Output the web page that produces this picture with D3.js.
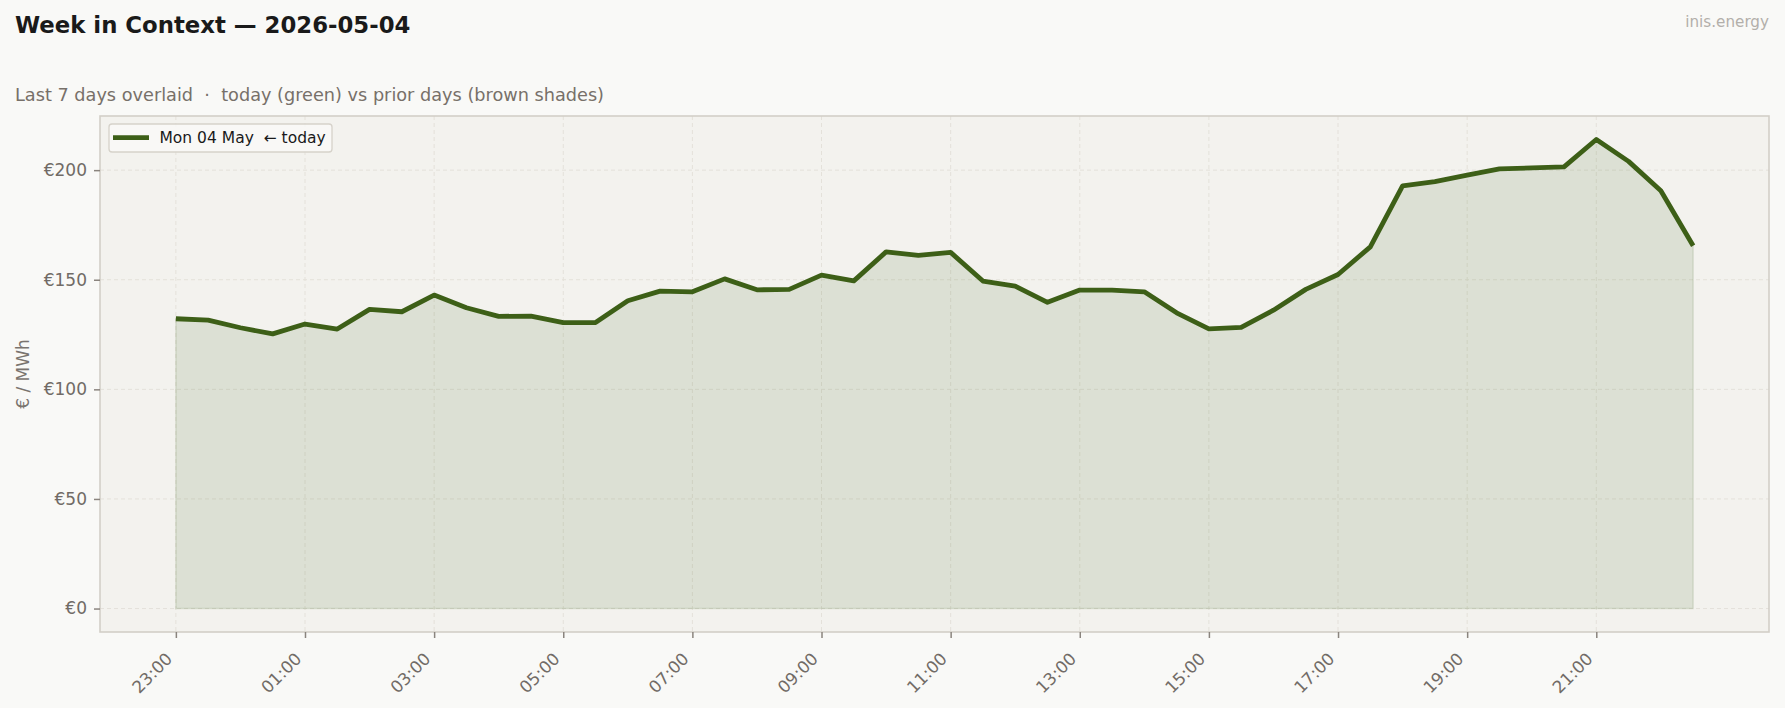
<!DOCTYPE html>
<html><head><meta charset="utf-8">
<script src="https://cdn.jsdelivr.net/npm/d3@7"></script>
<style>
html,body{margin:0;padding:0;background:#f9f9f7;}
svg{display:block;font-family:"DejaVu Sans",sans-serif;}
svg text{white-space:pre;}
</style></head><body>
<svg id="chart" width="1785" height="708"></svg>
<script>
const times = ["23:00","23:30","00:00","00:30","01:00","01:30","02:00","02:30","03:00","03:30","04:00","04:30",
  "05:00","05:30","06:00","06:30","07:00","07:30","08:00","08:30","09:00","09:30","10:00","10:30",
  "11:00","11:30","12:00","12:30","13:00","13:30","14:00","14:30","15:00","15:30","16:00","16:30",
  "17:00","17:30","18:00","18:30","19:00","19:30","20:00","20:30","21:00","21:30","22:00","22:30"];
const prices = [132.2,131.6,128.1,125.3,129.8,127.5,136.5,135.4,143.0,137.2,133.3,133.4,
  130.4,130.5,140.4,144.8,144.5,150.4,145.4,145.6,152.1,149.5,162.7,161.1,
  162.5,149.4,147.1,139.7,145.3,145.3,144.5,134.9,127.6,128.3,136.1,145.6,
  152.4,165.0,192.8,194.8,197.7,200.6,201.0,201.5,214.0,204.0,190.6,165.5];
const yTicks = [0,50,100,150,200];
const xTickLabels = ["23:00","01:00","03:00","05:00","07:00","09:00","11:00","13:00","15:00","17:00","19:00","21:00"];
const seriesName = "Mon 04 May  \u2190 today";
const titleText = "Week in Context \u2014 2026-05-04";
const subtitleText = "Last 7 days overlaid  \u00b7  today (green) vs prior days (brown shades)";
const yLabel = "\u20ac / MWh";
const brand = "inis.energy";

const W = 1785, H = 708;
const L = 100, R = 1769, T = 116, B = 632;
const green = "#3d5f17";
const tickColor = "#716b66";

const svg = d3.select("#chart");
svg.append("rect").attr("width", W).attr("height", H).attr("fill", "#f9f9f7");

const n = prices.length;
const pad = (n - 1) * 0.05;
const x = d3.scaleLinear().domain([-pad, n - 1 + pad]).range([L, R]);
const ymax = d3.max(prices);
const ypad = ymax * 0.05;
const y = d3.scaleLinear().domain([-ypad, ymax + ypad]).range([B, T]);

// plot background
svg.append("rect").attr("x", L).attr("y", T).attr("width", R - L).attr("height", B - T).attr("fill", "#f3f2ee");

const xTickIdx = xTickLabels.map(l => times.indexOf(l));

// grid
const grid = svg.append("g");
grid.selectAll("line.gx").data(xTickIdx).join("line")
  .attr("x1", d => x(d)).attr("x2", d => x(d)).attr("y1", T).attr("y2", B)
  .attr("stroke", "#e4e1da").attr("stroke-width", 1).attr("stroke-dasharray", "4,3");
grid.selectAll("line.gy").data(yTicks).join("line")
  .attr("x1", L).attr("x2", R).attr("y1", d => y(d)).attr("y2", d => y(d))
  .attr("stroke", "#e4e1da").attr("stroke-width", 1).attr("stroke-dasharray", "4,3");

// area
const area = d3.area().x((d, i) => x(i)).y0(y(0)).y1(d => y(d));
svg.append("path").datum(prices).attr("d", area)
  .attr("fill", "rgba(61,95,23,0.12)").attr("stroke", "rgba(61,95,23,0.12)").attr("stroke-width", 1.5);

// line
const line = d3.line().x((d, i) => x(i)).y(d => y(d));
svg.append("path").datum(prices).attr("d", line)
  .attr("fill", "none").attr("stroke", green).attr("stroke-width", 4.8)
  .attr("stroke-linejoin", "round").attr("stroke-linecap", "butt");

// frame
svg.append("rect").attr("x", L).attr("y", T).attr("width", R - L).attr("height", B - T)
  .attr("fill", "none").attr("stroke", "#d3cfc7").attr("stroke-width", 1.6);

// y axis
const yAxis = d3.axisLeft(y).tickValues(yTicks).tickFormat(d => "\u20ac" + d).tickSize(6).tickPadding(7);
const gy = svg.append("g").attr("transform", `translate(${L},0)`).call(yAxis);
gy.select(".domain").remove();
gy.selectAll(".tick line").attr("stroke", "#8a847e").attr("stroke-width", 1.5);
gy.selectAll(".tick text").attr("fill", tickColor).attr("font-size", "17px")
  .attr("font-family", "DejaVu Sans");

// x axis
const xAxis = d3.axisBottom(x).tickValues(xTickIdx).tickFormat(i => times[i]).tickSize(6).tickPadding(0);
const gx = svg.append("g").attr("transform", `translate(0,${B})`).call(xAxis);
gx.select(".domain").remove();
gx.selectAll(".tick line").attr("stroke", "#8a847e").attr("stroke-width", 1.5);
gx.selectAll(".tick text").attr("fill", tickColor).attr("font-size", "16.8px")
  .attr("font-family", "DejaVu Sans")
  .attr("text-anchor", "end").attr("dy", null).attr("y", null)
  .attr("transform", "translate(-3,28) rotate(-45)");

// y label
svg.append("text").attr("transform", `translate(23,${(T + B) / 2}) rotate(-90)`)
  .attr("text-anchor", "middle").attr("dominant-baseline", "central")
  .attr("fill", "#7a746f").attr("font-size", "17px").text(yLabel);

// titles
svg.append("text").attr("x", 15).attr("y", 33).attr("font-weight", "bold").attr("font-size", "22.8px")
  .attr("fill", "#1a1a1a").text(titleText);
svg.append("text").attr("x", 15).attr("y", 100.5).attr("font-size", "17.7px")
  .attr("fill", "#777069").text(subtitleText);
svg.append("text").attr("x", 1769).attr("y", 27).attr("text-anchor", "end").attr("font-size", "15.2px")
  .attr("fill", "#b3afaa").text(brand);

// legend
const lg = svg.append("g");
lg.append("rect").attr("x", 109).attr("y", 124).attr("width", 223).attr("height", 28).attr("rx", 3)
  .attr("fill", "#f9f9f7").attr("fill-opacity", 0.85).attr("stroke", "#d6d2ca").attr("stroke-width", 1.3);
lg.append("line").attr("x1", 113).attr("x2", 149).attr("y1", 137.7).attr("y2", 137.7)
  .attr("stroke", green).attr("stroke-width", 4.8);
lg.append("text").attr("x", 159.5).attr("y", 138).attr("dominant-baseline", "central")
  .attr("font-size", "15.5px").attr("fill", "#1a1a1a").text(seriesName);
</script>
</body></html>
